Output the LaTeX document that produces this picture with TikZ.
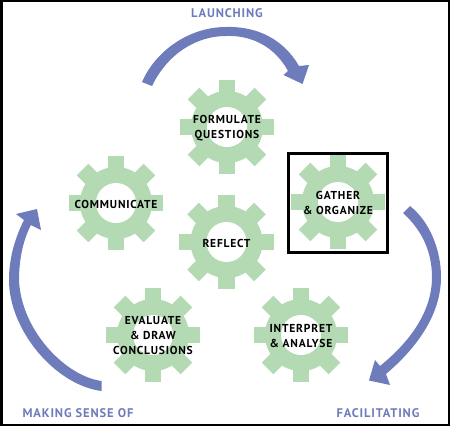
\documentclass[tikz,border=0pt]{standalone}
\usepackage{fontspec}
\setmainfont[LetterSpace=7]{PT Sans}
\usepackage{tikz}
\definecolor{gearcol}{HTML}{B4DAB4}
\definecolor{arrowcol}{HTML}{6F7CBC}
\tikzset{
    gearlabel/.style={align=center, inner sep=0pt, text=black, yshift=-1pt, font=\fontsize{11.5}{15}\selectfont\bfseries},
    phaselabel/.style={inner sep=0pt, text=arrowcol, font=\fontsize{12.5}{15}\selectfont\bfseries}
}
\begin{document}
\begin{tikzpicture}[x=1pt, y=-1pt]
    \useasboundingbox (0,0) rectangle (450,426);
    % Frame
    \fill[black] (0,0) rectangle (450,426);
    \fill[white] (3.3,1.8) rectangle (447.7,423.6);

    % Draw the gears
    \foreach \name/\x/\y/\txt in {
        formulate/227/127/{FORMULATE\\QUESTIONS},
        gather/338/202/{GATHER\\\& ORGANIZE},
        communicate/116/203/{COMMUNICATE},
        reflect/226.5/242/{REFLECT},
        evaluate/153/335/{EVALUATE\\\& DRAW\\CONCLUSIONS},
        interpret/301/335/{INTERPRET\\\& ANALYSE}} {
        \foreach \a in {0,45,...,315} {
            \fill[gearcol, shift={(\x,\y)}, rotate=\a] (30,-8.2) rectangle (47.3,8.2);
        }
        \fill[gearcol] (\x,\y) circle (36);
        \fill[white] (\x,\y) circle (20);
        \node[gearlabel] (\name) at (\x,\y) {\txt};
    }

    % Highlight the current step
    \draw[black, line width=3pt] (288.5,153.5) rectangle (387.5,252.5);

    % Cycle arrows
    \fill[arrowcol] (142,82) .. controls (156,50) and (190,27) .. (226,27)
        .. controls (258,26) and (284,40) .. (299,66) -- (309,65) -- (302.5,84) -- (283.5,75) -- (288,71)
        .. controls (275,47) and (252,35) .. (226,36)
        .. controls (197,36) and (168,53) .. (152,86) -- cycle;
    \fill[arrowcol] (410,206) .. controls (430,222) and (441,250) .. (441,277)
        .. controls (441,312) and (420,345) .. (386,374) -- (390,385) -- (369,380.5) -- (375,360) -- (380,366)
        .. controls (412,340) and (432,310) .. (432,277)
        .. controls (432,252) and (422,230) .. (403,213) -- cycle;
    \fill[arrowcol] (101.5,381) .. controls (65,376) and (21,330) .. (19,280)
        .. controls (19,260) and (23,240) .. (31,225) -- (41,230) -- (37,209) -- (16,214) -- (24,220)
        .. controls (14,240) and (9,260) .. (9,280)
        .. controls (9,330) and (55,385) .. (101.5,391) -- cycle;

    % Phase names
    \node[phaselabel] (launching) at (227,13) {LAUNCHING};
    \node[phaselabel] (facilitating) at (378,413) {FACILITATING};
    \node[phaselabel] (sense) at (78,413) {MAKING SENSE OF};
\end{tikzpicture}
\end{document}
